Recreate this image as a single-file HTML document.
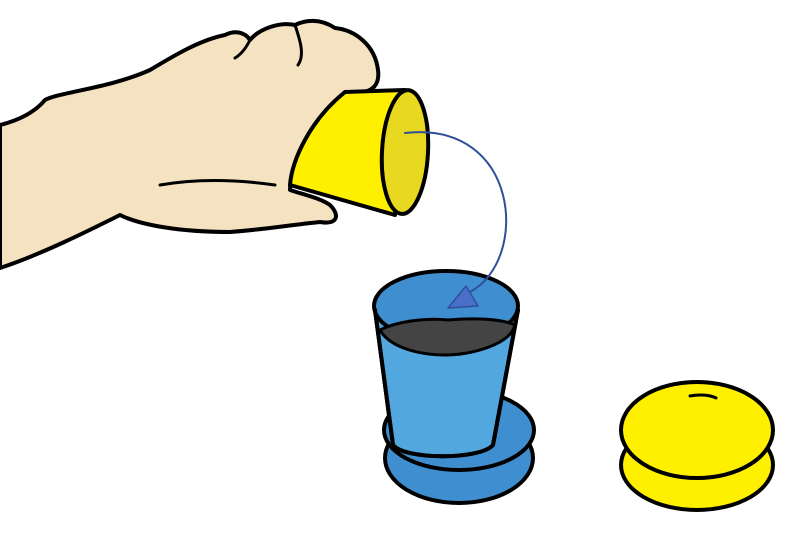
<!DOCTYPE html>
<html><head><meta charset="utf-8"><style>
html,body{margin:0;padding:0;background:#fff;width:785px;height:538px;overflow:hidden}
svg{display:block}
</style></head><body>
<svg width="785" height="538" viewBox="0 0 785 538" stroke="#000" stroke-width="4" stroke-linejoin="round" stroke-linecap="round">
<g>
<path d="M0,125 C20,120 35,112 45,100 C60,92 110,88 150,70 C175,55 200,40 225,35 C235,30 245,32 250,40 C260,28 280,22 295,25 C305,20 320,18 335,28 C355,30 375,45 378,70 C380,85 372,92 360,92 L345,92 C330,115 315,140 300,155 C292,170 290,185 290,190 C305,195 320,198 330,205 C340,215 338,225 320,222 C290,225 260,230 230,232 C180,232 140,225 120,215 C90,230 40,255 0,268 Z" fill="#F4E2C0"/>
<path d="M250,40 C245,50 240,55 235,58" fill="none" stroke-width="3"/>
<path d="M295,25 C300,40 305,55 298,65" fill="none" stroke-width="3"/>
<path d="M160,185 C200,178 240,180 275,185" fill="none" stroke-width="3"/>
</g>
<g>
<path d="M345,92 L405,90 L395,215 L290,185 C292,160 310,120 345,92 Z" fill="#FFF000"/>
<ellipse cx="405" cy="152" rx="23" ry="62" fill="#E9D820" transform="rotate(3 405 152)"/>
</g>
<g>
<ellipse cx="459" cy="458" rx="74" ry="45" fill="#3F8FD0"/>
<ellipse cx="459" cy="430" rx="75" ry="40" fill="#3F8FD0"/>
</g>
<g>
<path d="M375,310 L393,445 C405,460 480,460 493,445 L518,310 Z" fill="#52A7DE"/>
<ellipse cx="446" cy="306" rx="72" ry="35" fill="#3F8FD0"/>
<path d="M380,330 C400,320 430,318 448,320 C470,318 500,318 515,325 C510,345 470,355 446,355 C420,355 390,348 380,330 Z" fill="#444" stroke="#000" stroke-width="3"/>
<path d="M375,310 L393,445 C405,460 480,460 493,445 L518,310" fill="none"/>
</g>
<g>
<path d="M405,133 C520,120 530,260 470,292" fill="none" stroke="#2F4F9A" stroke-width="2"/>
<polygon points="448,308 478,306 466,286" fill="#4A6FC8" stroke="#2F4F9A" stroke-width="1.5"/>
</g>
<g>
<ellipse cx="697" cy="465" rx="76" ry="45" fill="#FFF000"/>
<ellipse cx="697" cy="430" rx="76" ry="48" fill="#FFF000"/>
<path d="M690,396 C700,394 710,395 716,398" fill="none" stroke-width="3"/>
</g>
</svg>
</body></html>
